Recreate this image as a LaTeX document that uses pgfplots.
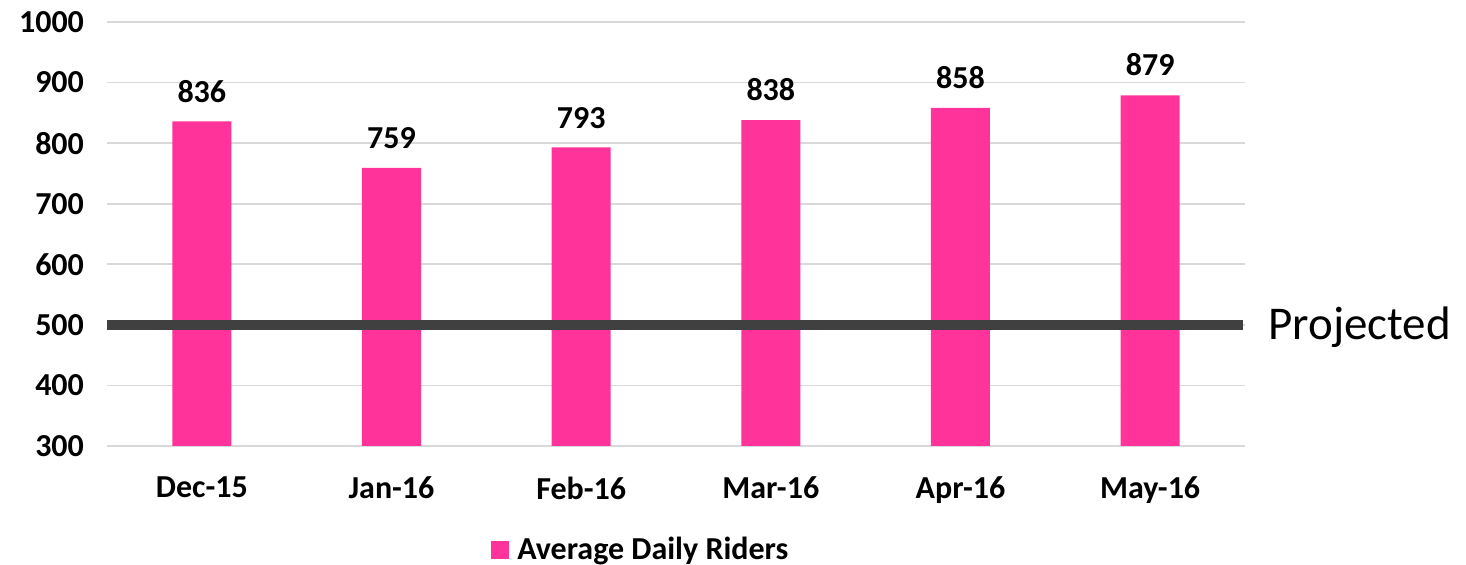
\documentclass[border=0pt]{standalone}
\usepackage{pgfplots}
\pgfplotsset{compat=1.18}
\usepackage{fontspec}
\setmainfont{Carlito}
\definecolor{barpink}{HTML}{FF3399}
\definecolor{projgray}{HTML}{404040}
\definecolor{gridgray}{HTML}{D9D9D9}
\begin{document}
\begin{tikzpicture}[x=1pt,y=1pt]
\useasboundingbox (0,0) rectangle (733,282.5);
\begin{axis}[
  at={(53.5pt,59.5pt)}, anchor=south west,
  scale only axis,
  width=569pt, height=212pt,
  xmin=-0.5, xmax=5.5,
  ymin=300, ymax=1000,
  ytick={300,400,...,1000},
  xtick={0,1,2,3,4,5},
  xticklabels={Dec-15,Jan-16,Feb-16,Mar-16,Apr-16,May-16},
  axis line style={draw=none},
  major tick length=0pt,
  ymajorgrids,
  grid style={gridgray, line width=0.8pt},
  tick label style={font=\fontsize{16}{18}\selectfont\bfseries},
  /pgf/number format/assume math mode=true,
  /pgf/number format/1000 sep={},
  yticklabel style={xshift=-8pt},
  xticklabel style={yshift=-12pt},
  clip=false,
  legend style={at={(0.47,-0.245)}, anchor=center, draw=none, fill=none, inner sep=0pt, font=\fontsize{16}{18}\selectfont\bfseries, legend columns=1},
  legend image code/.code={\fill[barpink] (0pt,-4.5pt) rectangle (9pt,4.5pt);},
]
\addplot[ybar, bar width=29.5pt, fill=barpink, draw=none,
  nodes near coords, nodes near coords style={font=\fontsize{16}{18}\selectfont\bfseries, black, yshift=6pt},
  /pgf/number format/assume math mode=true]
  coordinates {(0,836) (1,759) (2,793) (3,838) (4,858) (5,879)};
\addlegendentry{\hspace{2pt}Average Daily Riders}
\addplot[projgray, line width=5pt, forget plot] coordinates {(-0.5,500) (5.49,500)};
\node[anchor=west, font=\fontsize{23.5}{26}\selectfont, inner sep=0pt] at (axis cs:5.5,500) [xshift=11.5pt, yshift=-1pt] {Projected};
\end{axis}
\end{tikzpicture}
\end{document}
